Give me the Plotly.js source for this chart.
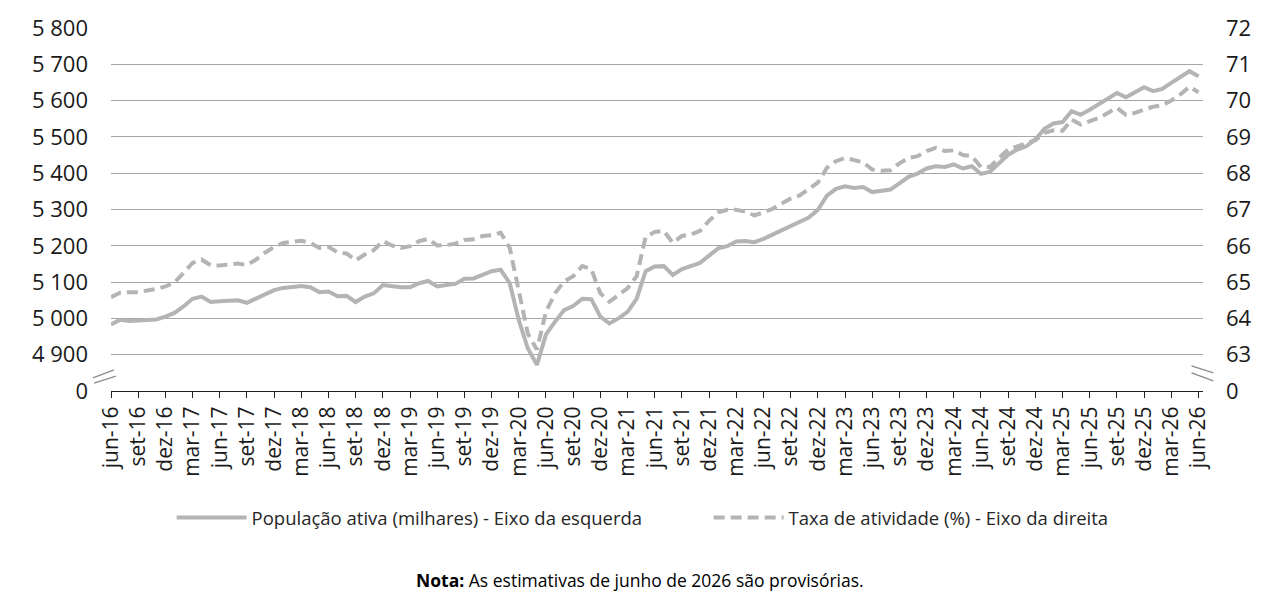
<!DOCTYPE html>
<html>
<head>
<meta charset="utf-8">
<script src="https://cdn.plot.ly/plotly-3.0.1.min.js"></script>
<style>
  html, body { margin: 0; padding: 0; background: #fff; }
  #chart { width: 1276px; height: 602px; }
</style>
</head>
<body>
<div id="chart"></div>
<script>
/* População ativa e taxa de atividade, jun-16 a jun-26 (mensal) */

const monthNames = ['jan', 'fev', 'mar', 'abr', 'mai', 'jun', 'jul', 'ago', 'set', 'out', 'nov', 'dez'];
const startYear = 2016;
const startMonth = 5; // junho
const monthCount = 121;

// Eixo da esquerda (milhares)
const populacaoAtiva = [
  4983, 4996, 4993, 4995, 4996, 4997, 5005, 5015, 5033, 5054,
  5060, 5045, 5047, 5049, 5050, 5043, 5054, 5065, 5078, 5084,
  5087, 5089, 5086, 5072, 5074, 5061, 5062, 5045, 5060, 5069,
  5092, 5088, 5086, 5086, 5097, 5103, 5088, 5092, 5095, 5109,
  5110, 5120, 5130, 5134, 5097, 4995, 4917, 4872, 4956, 4991,
  5023, 5034, 5054, 5053, 5005, 4986, 5000, 5018, 5054, 5130,
  5143, 5144, 5120, 5136, 5144, 5153, 5173, 5193, 5199, 5212,
  5213, 5210, 5219, 5231, 5240, 5254, 5264, 5278, 5299, 5338,
  5357, 5364, 5359, 5362, 5348, 5351, 5355, 5372, 5390, 5399,
  5413, 5419, 5417, 5424, 5413, 5419, 5398, 5404, 5428, 5451,
  5465, 5474, 5493, 5522, 5537, 5541, 5571, 5561, 5575, 5591,
  5607, 5621, 5609, 5623, 5637, 5626, 5632, 5649, 5665, 5681,
  5667
];

// Eixo da direita (%)
const taxaAtividade = [
  64.58, 64.71, 64.72, 64.72, 64.77, 64.81, 64.88, 64.99, 65.25, 65.53,
  65.62, 65.46, 65.46, 65.49, 65.51, 65.47, 65.62, 65.81, 65.97, 66.08,
  66.10, 66.14, 66.08, 65.94, 65.97, 65.82, 65.79, 65.60, 65.76, 65.88,
  66.13, 66.01, 65.94, 65.99, 66.13, 66.19, 66.01, 66.02, 66.06, 66.16,
  66.18, 66.27, 66.29, 66.36, 65.94, 64.79, 63.58, 63.14, 64.19, 64.69,
  65.02, 65.16, 65.44, 65.36, 64.69, 64.46, 64.65, 64.83, 65.16, 66.25,
  66.38, 66.41, 66.08, 66.27, 66.31, 66.41, 66.69, 66.92, 66.99, 66.99,
  66.94, 66.84, 66.92, 67.02, 67.16, 67.30, 67.39, 67.56, 67.74, 68.15,
  68.33, 68.42, 68.35, 68.30, 68.10, 68.07, 68.08, 68.27, 68.42, 68.47,
  68.61, 68.70, 68.61, 68.63, 68.50, 68.47, 68.17, 68.17, 68.42, 68.65,
  68.74, 68.82, 68.91, 69.11, 69.18, 69.17, 69.48, 69.34, 69.43, 69.52,
  69.66, 69.80, 69.61, 69.66, 69.75, 69.83, 69.87, 70.00, 70.17, 70.38,
  70.23
];

const leftTickVals = [4800, 4900, 5000, 5100, 5200, 5300, 5400, 5500, 5600, 5700, 5800];
const leftTickText = ['0', '4 900', '5 000', '5 100', '5 200', '5 300', '5 400', '5 500', '5 600', '5 700', '5 800'];
const rightTickVals = [62, 63, 64, 65, 66, 67, 68, 69, 70, 71, 72];
const rightTickText = ['0', '63', '64', '65', '66', '67', '68', '69', '70', '71', '72'];

const nameLeft = 'População ativa (milhares) - Eixo da esquerda';
const nameRight = 'Taxa de atividade (%) - Eixo da direita';

// rótulos mensais "jun-16", "jul-16", ...
const months = [];
for (let k = 0; k < monthCount; k++) {
  const m = (startMonth + k) % 12;
  const y = startYear + Math.floor((startMonth + k) / 12);
  months.push(monthNames[m] + '-' + String(y).slice(2));
}
const quarterTicks = months.filter((_, k) => k % 3 === 0);

const FONT = '"Open Sans", "Noto Sans", sans-serif';
const LINE = '#b4b4b4';

const data = [
  {
    x: months, y: populacaoAtiva, name: nameLeft,
    type: 'scatter', mode: 'lines', yaxis: 'y',
    line: { color: LINE, width: 4 }
  },
  {
    x: months, y: taxaAtividade, name: nameRight,
    type: 'scatter', mode: 'lines', yaxis: 'y2',
    line: { color: LINE, width: 4, dash: '11px,6px' }
  }
];

// marcas de quebra de eixo "//"
const breakLine = { type: 'line', xref: 'paper', yref: 'y', line: { color: '#8c8c8c', width: 1.3 } };
const shapes = [
  Object.assign({}, breakLine, { x0: -0.0165, x1: 0.0027, y0: 4836, y1: 4858 }),
  Object.assign({}, breakLine, { x0: -0.0155, x1: 0.0045, y0: 4822, y1: 4841 }),
  Object.assign({}, breakLine, { x0: 0.9895, x1: 1.0095, y0: 4869, y1: 4850 }),
  Object.assign({}, breakLine, { x0: 0.9895, x1: 1.0095, y0: 4850, y1: 4828 })
];

const layout = {
  width: 1276, height: 602,
  margin: { l: 111, r: 73, t: 28, b: 211 },
  paper_bgcolor: '#fff', plot_bgcolor: '#fff',
  font: { family: FONT, color: '#1a1a1a' },
  showlegend: true,
  legend: {
    orientation: 'h', x: 0.0555, xanchor: 'left', y: -0.35, yanchor: 'middle',
    font: { size: 18.5, color: '#262626' }, itemwidth: 70, traceorder: 'normal',
    entrywidth: 452, entrywidthmode: 'pixels'
  },
  xaxis: {
    type: 'category', range: [0, 120.5],
    tickmode: 'array', tickvals: quarterTicks, ticktext: quarterTicks,
    tickangle: -90, tickfont: { size: 21 },
    ticks: 'outside', ticklen: 6, tickcolor: '#222', tickwidth: 1,
    showline: true, linecolor: '#222', linewidth: 1,
    showgrid: false, zeroline: false, fixedrange: true
  },
  yaxis: {
    range: [4800, 5800], tickmode: 'array', tickvals: leftTickVals, ticktext: leftTickText,
    tickfont: { size: 22 }, ticks: '', ticklabelstandoff: 22,
    showgrid: true, gridcolor: '#a6a6a6', gridwidth: 1,
    showline: false, zeroline: false, fixedrange: true
  },
  yaxis2: {
    overlaying: 'y', side: 'right',
    range: [62, 72], tickmode: 'array', tickvals: rightTickVals, ticktext: rightTickText,
    tickfont: { size: 22 }, ticks: '', ticklabelstandoff: 22,
    showgrid: false, showline: false, zeroline: false, fixedrange: true
  },
  shapes: shapes,
  annotations: [{
    xref: 'paper', yref: 'paper', x: 0.4844, y: -0.52, xanchor: 'center', yanchor: 'middle',
    showarrow: false, font: { size: 17.5, color: '#000' },
    text: '<b>Nota:</b> As estimativas de junho de 2026 são provisórias.'
  }]
};

Plotly.newPlot('chart', data, layout, { staticPlot: true, displayModeBar: false });
</script>
</body>
</html>
